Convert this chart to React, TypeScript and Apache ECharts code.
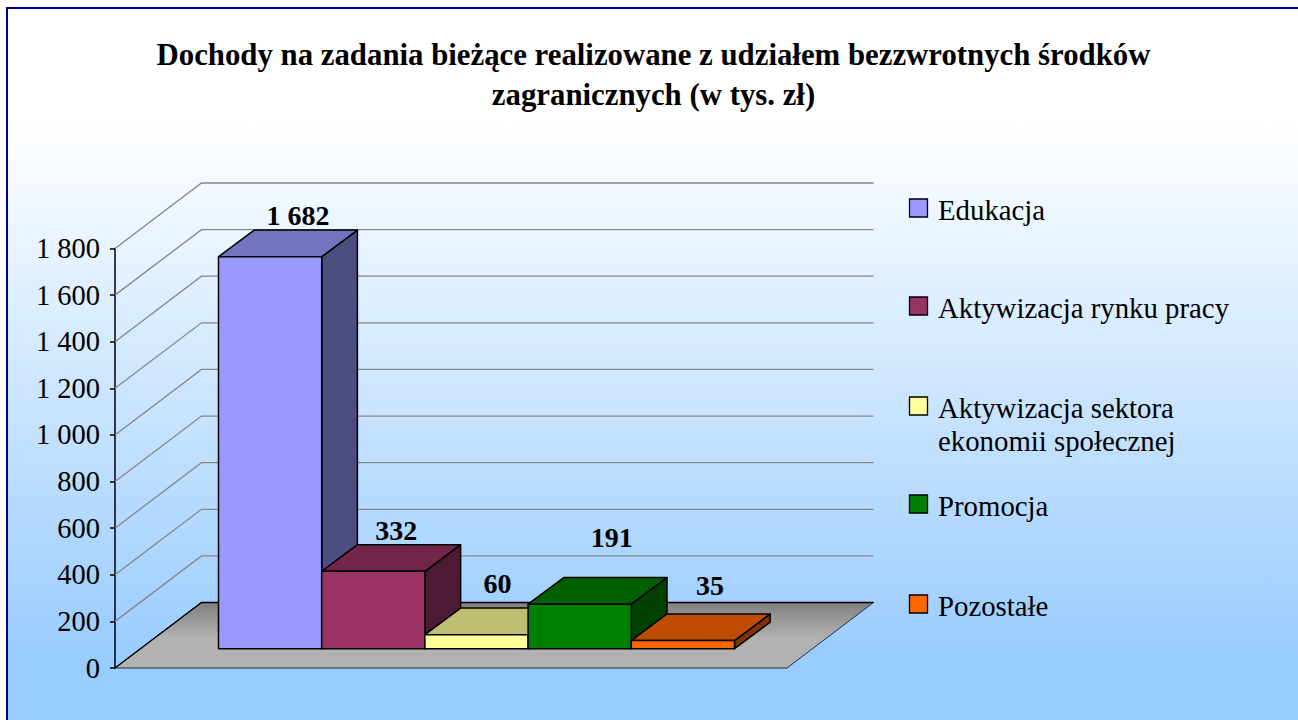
import React, { useEffect, useRef } from "react";
import * as echarts from "echarts";

const titleText = "Dochody na zadania bieżące realizowane z udziałem bezzwrotnych środków\nzagranicznych (w tys. zł)";
const categories = ["Edukacja", "Aktywizacja rynku pracy", "Aktywizacja sektora\nekonomii społecznej", "Promocja", "Pozostałe"];
const values = [1682, 332, 60, 191, 35];
const yTicks = [0, 200, 400, 600, 800, 1000, 1200, 1400, 1600, 1800];
const frontColors = ["#9999ff", "#993366", "#ffff99", "#008000", "#ff6600"];
const topColors = ["#7373bf", "#732649", "#bfbf73", "#006000", "#bf4d00"];
const sideColors = ["#4d4d80", "#4d1a33", "#80804d", "#004000", "#803300"];
const labelLift = [15, 14, 25, 40, 28];
const labelShift = [28, 23, 21, 32, 27];
const legendTop = [199, 297, 397, 495, 595];

const SERIF = '"Liberation Serif", "Times New Roman", serif';
const AX_L = 115, AX_R = 787, AX_TOP = 248.5, AX_BOT = 668;
const BAR_L = 218.5, BAR_R = 734.5, BAR_BASE = 648.7;
const WALL_DX = 86.5, WALL_DY = -65.5, BAR_DX = 35.7, BAR_DY = -26.6;

const fmt = (v: number) => String(v).replace(/\B(?=(\d{3})+$)/g, " ");

export default function App() {
  const ref = useRef<HTMLDivElement>(null);
  useEffect(() => {
    document.body.style.margin = "0";
    const chart = echarts.init(ref.current!, undefined, { renderer: "svg" });

    const legendEls: any[] = [];
    categories.forEach((c, i) => {
      const multi = c.includes("\n");
      legendEls.push({
        type: "rect", z: 50, shape: { x: 909.5, y: legendTop[i], width: 18, height: 18 },
        style: { fill: frontColors[i], stroke: "#000", lineWidth: 1.3 },
      });
      legendEls.push({
        type: "text", z: 50, x: 938, y: multi ? legendTop[i] - 6 : legendTop[i] + 11,
        style: {
          text: c, fill: "#000", font: `28.8px ${SERIF}`, textAlign: "left",
          textVerticalAlign: multi ? "top" : "middle", lineHeight: 33.5,
        },
      });
    });

    chart.setOption({
      animation: false,
      backgroundColor: "#ffffff",
      title: {
        text: titleText, left: 648.5, top: 30, textAlign: "center",
        textStyle: { fontFamily: SERIF, fontWeight: "bold", fontSize: 30.8, lineHeight: 40, color: "#000" },
      },
      graphic: [
        {
          type: "rect", z: -10, silent: true,
          shape: { x: 7, y: 8, width: 1300, height: 720 },
          style: {
            fill: new echarts.graphic.LinearGradient(0, 0, 0, 1, [
              { offset: 0, color: "#ffffff" },
              { offset: 0.16, color: "#ffffff" },
              { offset: 0.9, color: "#99ccff" },
              { offset: 1, color: "#99ccff" },
            ]),
            stroke: "#000090", lineWidth: 2,
          },
        },
        ...legendEls,
      ],
      grid: [
        { left: AX_L, top: AX_TOP, width: AX_R - AX_L, height: AX_BOT - AX_TOP, containLabel: false },
        { left: BAR_L, top: BAR_BASE - (AX_BOT - AX_TOP), width: BAR_R - BAR_L, height: AX_BOT - AX_TOP },
      ],
      xAxis: [
        { gridIndex: 0, type: "value", min: 0, max: 1, show: false },
        { gridIndex: 1, type: "category", data: categories, show: false },
      ],
      yAxis: [
        {
          gridIndex: 0, type: "value", min: 0, max: 1800, interval: 200,
          axisLine: { show: true, lineStyle: { color: "#000", width: 1.5 } },
          axisTick: { show: true, length: 5, lineStyle: { color: "#000", width: 1.5 } },
          splitLine: { show: false },
          axisLabel: {
            margin: 15, color: "#000", fontFamily: SERIF, fontSize: 28.5, padding: [2, 0, 0, 0],
            formatter: (v: number) => fmt(v),
          },
        },
        { gridIndex: 1, type: "value", min: 0, max: 1800, interval: 200, show: false },
      ],
      series: [
        {
          type: "custom", name: "walls", xAxisIndex: 0, yAxisIndex: 0, z: 1, silent: true,
          data: yTicks.map((t) => [0, t]),
          encode: { x: 0, y: 1 },
          renderItem: (_p: any, api: any) => {
            const [x0, y0] = api.coord([0, api.value(1)]);
            const [x1] = api.coord([1, api.value(1)]);
            const xb = x0 + WALL_DX, yb = y0 + WALL_DY;
            if (api.value(1) === 0) {
              return {
                type: "group",
                children: [
                  {
                    type: "polygon",
                    shape: { points: [[x0, y0], [xb, yb], [x1 + WALL_DX, yb], [x1, y0]] },
                    style: {
                      fill: new echarts.graphic.LinearGradient(0, 0, 0, 1, [
                        { offset: 0, color: "#808080" },
                        { offset: 0.55, color: "#b2b2b2" },
                        { offset: 1, color: "#b2b2b2" },
                      ]),
                      stroke: "#1f2f55", lineWidth: 1,
                    },
                  },
                  {
                    type: "polyline",
                    shape: { points: [[x0, y0], [xb, yb], [x1 + WALL_DX, yb]] },
                    style: { fill: "none", stroke: "#000", lineWidth: 1.3 },
                  },
                ],
              };
            }
            return {
              type: "polyline",
              shape: { points: [[x0, y0], [xb, yb], [x1 + WALL_DX, yb]] },
              style: { fill: "none", stroke: "#868686", lineWidth: 1.3 },
            };
          },
        },
        {
          type: "custom", name: "Dochody", xAxisIndex: 1, yAxisIndex: 1, z: 3, silent: true,
          data: values.map((v, i) => [i, v]),
          encode: { x: 0, y: 1 },
          renderItem: (p: any, api: any) => {
            const i = p.dataIndex;
            const v = api.value(1);
            const [cx, top] = api.coord([i, v]);
            const [, base] = api.coord([i, 0]);
            const w = api.size([1, 0])[0];
            const l = cx - w / 2, r = cx + w / 2;
            const stroke = { stroke: "#000", lineWidth: 1.5, lineJoin: "round" };
            return {
              type: "group",
              children: [
                {
                  type: "polygon",
                  shape: { points: [[r, top], [r + BAR_DX, top + BAR_DY], [r + BAR_DX, base + BAR_DY], [r, base]] },
                  style: { fill: sideColors[i], ...stroke },
                },
                {
                  type: "polygon",
                  shape: { points: [[l, top], [l + BAR_DX, top + BAR_DY], [r + BAR_DX, top + BAR_DY], [r, top]] },
                  style: { fill: topColors[i], ...stroke },
                },
                {
                  type: "rect",
                  shape: { x: l, y: top, width: w, height: base - top },
                  style: { fill: frontColors[i], ...stroke },
                },
                {
                  type: "text", z2: 20,
                  style: {
                    x: cx + labelShift[i], y: top + BAR_DY - labelLift[i], text: fmt(v),
                    fill: "#000", font: `bold 28px ${SERIF}`, textAlign: "center", textVerticalAlign: "middle",
                  },
                },
              ],
            };
          },
        },
      ],
    });
    return () => chart.dispose();
  }, []);
  return <div ref={ref} style={{ width: 1298, height: 720 }} />;
}
